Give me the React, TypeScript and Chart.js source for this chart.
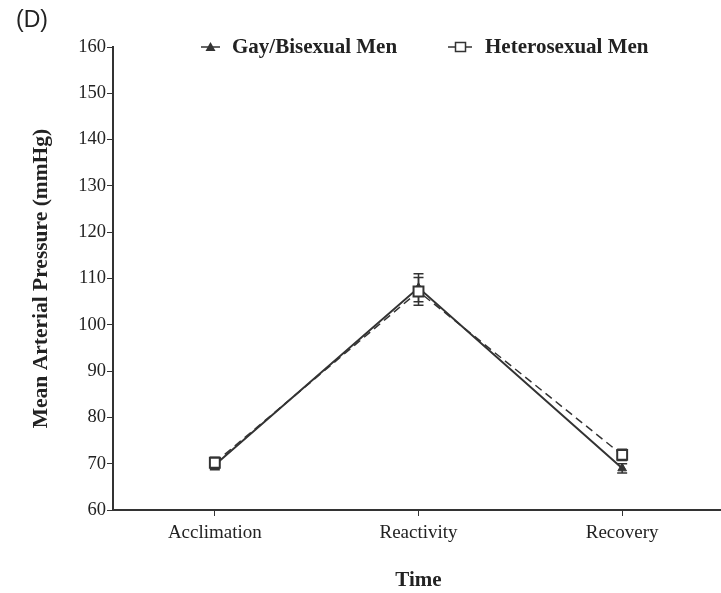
import React, { useEffect, useRef } from "react";
import { Chart, registerables } from "chart.js";

Chart.register(...registerables);

const categories = ["Acclimation", "Reactivity", "Recovery"];
const gayValues = [69.7, 108.0, 69.0];
const gayErrors = [1.0, 3.0, 1.0];
const heteroValues = [70.2, 107.2, 71.9];
const heteroErrors = [1.2, 3.0, 1.2];
const yTicks = [60, 70, 80, 90, 100, 110, 120, 130, 140, 150, 160];
const seriesNames = ["Gay/Bisexual Men", "Heterosexual Men"];
const panelLabel = "(D)";
const yTitle = "Mean Arterial Pressure (mmHg)";
const xTitle = "Time";

const INK = "#333333";
const SERIF = "'Liberation Serif', 'Times New Roman', serif";

const errorBars = {
  id: "errorBars",
  beforeDatasetsDraw(chart: any) {
    const ctx = chart.ctx;
    const y = chart.scales.y;
    chart.data.datasets.forEach((ds: any, di: number) => {
      const meta = chart.getDatasetMeta(di);
      const errs: number[] = ds.errors || [];
      meta.data.forEach((pt: any, i: number) => {
        const v = ds.data[i];
        const e = errs[i] || 0;
        const top = y.getPixelForValue(v + e);
        const bot = y.getPixelForValue(v - e);
        ctx.save();
        ctx.strokeStyle = INK;
        ctx.lineWidth = 1.5;
        ctx.setLineDash([]);
        ctx.beginPath();
        ctx.moveTo(pt.x, top);
        ctx.lineTo(pt.x, bot);
        ctx.moveTo(pt.x - 5, top);
        ctx.lineTo(pt.x + 5, top);
        ctx.moveTo(pt.x - 5, bot);
        ctx.lineTo(pt.x + 5, bot);
        ctx.stroke();
        ctx.restore();
      });
    });
  },
};

const decorations = {
  id: "decorations",
  afterDraw(chart: any) {
    const ctx = chart.ctx;
    ctx.save();
    ctx.fillStyle = "#222";
    ctx.font = "23px 'Liberation Sans', Arial, sans-serif";
    ctx.textBaseline = "middle";
    ctx.textAlign = "left";
    ctx.fillText(panelLabel, 16, 21);

    // legend
    const ly = 47;
    ctx.font = "bold 21px " + SERIF;
    ctx.strokeStyle = INK;
    ctx.lineWidth = 1.5;
    // item 1: solid line + triangle
    ctx.beginPath();
    ctx.moveTo(201, ly);
    ctx.lineTo(220, ly);
    ctx.stroke();
    ctx.fillStyle = INK;
    ctx.beginPath();
    ctx.moveTo(210.5, ly - 5);
    ctx.lineTo(215.5, ly + 4);
    ctx.lineTo(205.5, ly + 4);
    ctx.closePath();
    ctx.fill();
    ctx.fillStyle = "#222";
    ctx.fillText(seriesNames[0], 232, ly + 1);
    // item 2: line + square
    ctx.beginPath();
    ctx.moveTo(448, ly);
    ctx.lineTo(472, ly);
    ctx.stroke();
    ctx.fillStyle = "#fff";
    ctx.fillRect(455.5, ly - 4.5, 10, 9);
    ctx.strokeRect(455.5, ly - 4.5, 10, 9);
    ctx.fillStyle = "#222";
    ctx.fillText(seriesNames[1], 485, ly + 1);
    ctx.restore();
  },
};

export default function App() {
  const ref = useRef<HTMLCanvasElement | null>(null);

  useEffect(() => {
    if (!ref.current) return;
    const chart = new Chart(ref.current, {
      type: "line",
      data: {
        labels: categories,
        datasets: [
          {
            label: seriesNames[0],
            data: gayValues,
            errors: gayErrors,
            borderColor: INK,
            backgroundColor: INK,
            borderWidth: 2,
            pointStyle: "triangle",
            pointRadius: 5,
            pointBackgroundColor: INK,
            pointBorderColor: INK,
            pointBorderWidth: 1,
            order: 1,
          } as any,
          {
            label: seriesNames[1],
            data: heteroValues,
            errors: heteroErrors,
            borderColor: INK,
            backgroundColor: "#fff",
            borderWidth: 1.5,
            borderDash: [8, 5],
            pointStyle: "rect",
            pointRadius: 7,
            pointBackgroundColor: "#fff",
            pointBorderColor: INK,
            pointBorderWidth: 2,
            order: 0,
          } as any,
        ],
      },
      options: {
        animation: false,
        responsive: false,
        maintainAspectRatio: false,
        layout: { autoPadding: false, padding: { left: 25, top: 47, right: 0, bottom: 0 } },
        plugins: {
          legend: { display: false },
          tooltip: { enabled: false },
          title: { display: false },
        },
        scales: {
          x: {
            type: "category",
            offset: true,
            border: { display: true, color: INK, width: 2 },
            grid: {
              display: true,
              drawOnChartArea: false,
              drawTicks: true,
              tickLength: 6,
              color: INK,
              offset: false,
            },
            ticks: {
              color: "#222",
              font: { family: SERIF, size: 19 },
              padding: 6,
            },
            title: {
              display: true,
              text: xTitle,
              color: "#222",
              font: { family: SERIF, size: 21, weight: "bold" },
              padding: { top: 8, bottom: 0 },
            },
            afterFit(scale: any) {
              scale.height = 83;
            },
          },
          y: {
            type: "linear",
            min: 60,
            max: 160,
            afterBuildTicks(scale: any) {
              scale.ticks = yTicks.map((v) => ({ value: v }));
            },
            border: { display: true, color: INK, width: 2 },
            grid: {
              display: true,
              drawOnChartArea: false,
              drawTicks: true,
              tickLength: 6,
              color: INK,
            },
            ticks: {
              color: "#222",
              font: { family: SERIF, size: 18.5 },
              padding: 1,
            },
            title: {
              display: true,
              text: yTitle,
              color: "#222",
              font: { family: SERIF, size: 21.5, weight: "bold" },
              padding: { top: 4, bottom: 4 },
            },
            afterFit(scale: any) {
              scale.width = 88;
            },
          },
        },
      } as any,
      plugins: [errorBars, decorations],
    });
    return () => chart.destroy();
  }, []);

  return (
    <div style={{ position: "fixed", left: 0, top: 0, width: 721, height: 593, overflow: "hidden", background: "#fff" }}>
      <canvas ref={ref} width={724} height={593} style={{ display: "block" }} />
    </div>
  );
}
